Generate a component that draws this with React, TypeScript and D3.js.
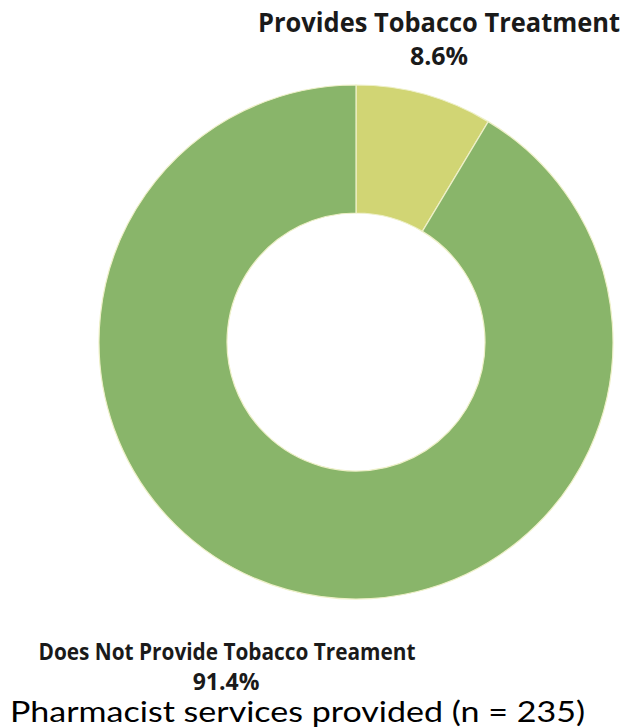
import React from "react";
import * as d3 from "d3";

const categories = ["Provides Tobacco Treatment", "Does Not Provide Tobacco Treament"];
const values = [8.6, 91.4];
const valueLabels = ["8.6%", "91.4%"];
const colors = ["#d1d574", "#89b56a"];
const caption = "Pharmacist services provided (n = 235)";

const W = 629;
const H = 728;
const cx = 356;
const cy = 342;
const outerR = 257;
const innerR = 129;

export default function App() {
  const pie = d3.pie<number>().sort(null).startAngle(0).endAngle(2 * Math.PI);
  const arcs = pie(values);
  const arc = d3.arc<d3.PieArcDatum<number>>().innerRadius(innerR).outerRadius(outerR);
  const bold = { fontFamily: "'Open Sans', sans-serif", fontWeight: 700, fill: "#1a1a1a" } as const;
  return (
    <div style={{ position: "absolute", left: 0, top: 0, width: W, height: H, background: "#fff" }}>
      <svg width={W} height={H}>
        <rect width={W} height={H} fill="#fff" />
        <g transform={`translate(${cx},${cy})`}>
          {arcs.map((a, i) => (
            <path key={i} d={arc(a) || ""} fill={colors[i]} stroke="#eef0c8" strokeWidth={1.2} />
          ))}
        </g>
        <text x={439} y={32} textAnchor="middle" fontSize={26} textLength={362} lengthAdjust="spacingAndGlyphs" {...bold}>
          {categories[0]}
        </text>
        <text x={439} y={65} textAnchor="middle" fontSize={25} {...bold}>
          {valueLabels[0]}
        </text>
        <text x={227} y={660} textAnchor="middle" fontSize={23} textLength={377} lengthAdjust="spacingAndGlyphs" {...bold}>
          {categories[1]}
        </text>
        <text x={226} y={690} textAnchor="middle" fontSize={23} {...bold}>
          {valueLabels[1]}
        </text>
        <text x={297.5} y={722} textAnchor="middle" fontSize={28} textLength={575} lengthAdjust="spacingAndGlyphs" fontFamily="Lato, sans-serif" fill="#000">
          {caption}
        </text>
      </svg>
    </div>
  );
}
